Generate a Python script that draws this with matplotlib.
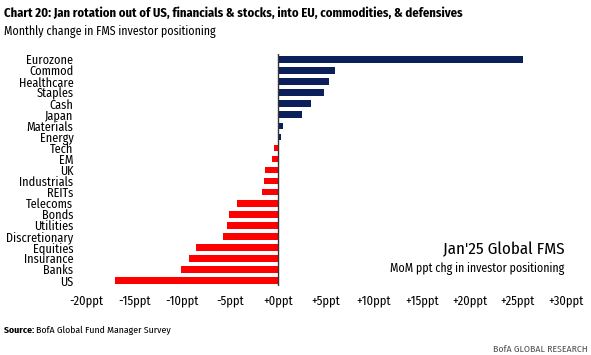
import matplotlib
matplotlib.use("Agg")
import matplotlib.pyplot as plt
from matplotlib import font_manager

names = {f.name for f in font_manager.fontManager.ttflist}
FONT = "Fira Sans Condensed" if "Fira Sans Condensed" in names else "Roboto Condensed"
plt.rcParams['font.family'] = [FONT, 'DejaVu Sans']

categories = ["Eurozone", "Commod", "Healthcare", "Staples", "Cash", "Japan", "Materials",
              "Energy", "Tech", "EM", "UK", "Industrials", "REITs", "Telecoms", "Bonds",
              "Utilities", "Discretionary", "Equities", "Insurance", "Banks", "US"]
values = [25.6, 5.9, 5.3, 4.8, 3.4, 2.5, 0.55, 0.3, -0.4, -0.6, -1.4, -1.5, -1.7,
          -4.3, -5.1, -5.3, -5.8, -8.6, -9.3, -10.1, -17.0]
ticks = [-20, -15, -10, -5, 0, 5, 10, 15, 20, 25, 30]
tick_labels = ["-20ppt", "-15ppt", "-10ppt", "-5ppt", "+0ppt", "+5ppt", "+10ppt",
               "+15ppt", "+20ppt", "+25ppt", "+30ppt"]

NAVY = "#0B1F5B"
RED = "#FF0000"

fig = plt.figure(figsize=(5.91, 3.55), dpi=100)
ax = fig.add_axes([0.1465, 0.194, 0.957 - 0.1465, 0.654])

n = len(categories)
ypos = list(range(n))
colors = [NAVY if v >= 0 else RED for v in values]
ax.barh(ypos, values, height=0.6, color=colors, zorder=2)
ax.axvline(0, color="#333333", linewidth=1.0, zorder=3)
ax.set_ylim(n - 0.5, -0.5)
ax.set_xlim(-20, 30)
ax.set_yticks(ypos)
ax.set_yticklabels(categories, fontsize=8.8)
ax.set_xticks(ticks)
ax.set_xticklabels(tick_labels, fontsize=9)
ax.tick_params(axis='y', length=0, pad=9.5)
ax.tick_params(axis='x', length=0, pad=6)
for s in ax.spines.values():
    s.set_visible(False)

fig.text(0.006, 0.963, "Chart 20: Jan rotation out of US, financials & stocks, into EU, commodities, & defensives",
         fontsize=9.1, fontweight="bold", va="center", ha="left")
fig.text(0.006, 0.912, "Monthly change in FMS investor positioning", fontsize=8.6, va="center", ha="left")

fig.text(0.955, 0.296, "Jan'25 Global FMS", fontsize=12.2, ha="right", va="center")
fig.text(0.955, 0.245, "MoM ppt chg in investor positioning", fontsize=8.6, ha="right", va="center")

src = fig.text(0.006, 0.068, "Source: ", fontsize=7, fontweight="bold", ha="left", va="center")
renderer = fig.canvas.get_renderer()
bb = src.get_window_extent(renderer=renderer)
x1 = bb.x1 / fig.bbox.width
fig.text(x1, 0.068, "BofA Global Fund Manager Survey", fontsize=7, ha="left", va="center")
fig.text(0.995, 0.017, "BofA GLOBAL RESEARCH", fontsize=7, color="#555555", ha="right", va="center")

fig.savefig("out.png", dpi=100)
